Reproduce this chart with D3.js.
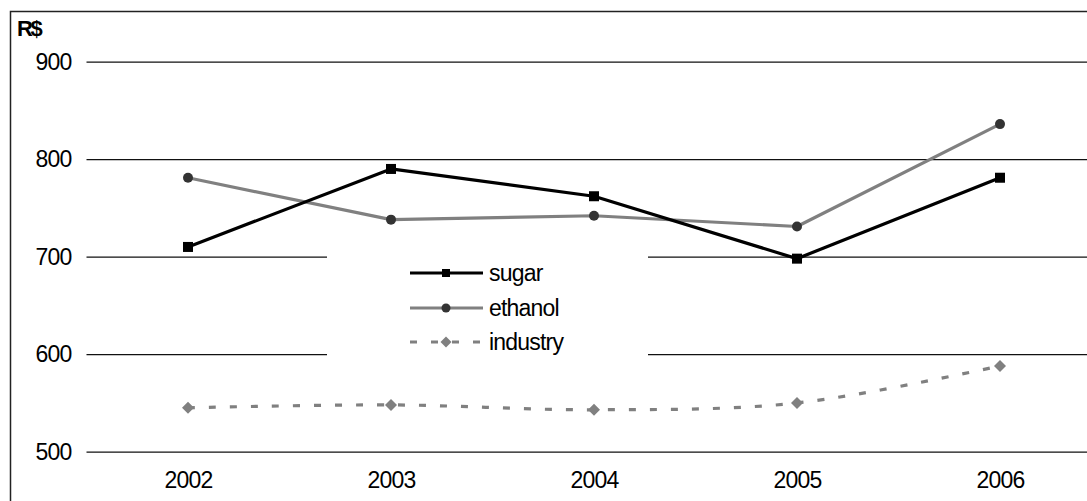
<!DOCTYPE html>
<html>
<head>
<meta charset="utf-8">
<script src="https://cdn.jsdelivr.net/npm/d3@7"></script>
<style>
  html, body { margin: 0; padding: 0; background: #fff; }
  svg { display: block; font-family: "Liberation Sans", Arial, sans-serif; }
</style>
</head>
<body>
<svg id="chart" width="1087" height="501"></svg>
<script>
// Prices in R$ per year
const years = ["2002", "2003", "2004", "2005", "2006"];
const sugar = [710, 790, 762, 698, 781];
const ethanol = [781, 738, 742, 731, 836];
const industry = [545, 548, 543, 550, 588];
const yTicks = [500, 600, 700, 800, 900];
const seriesNames = ["sugar", "ethanol", "industry"];

const svg = d3.select("#chart");
const W = 1087, H = 501;
const FONT = "'Liberation Sans', Arial, sans-serif";

const plot = { left: 86.5, right: 1101.5, top: 61.7, bottom: 451.7 };

const x = d3.scalePoint().domain(years).range([plot.left, plot.right]).padding(0.5);
const y = d3.scaleLinear().domain([500, 900]).range([plot.bottom, plot.top]);

// outer frame
svg.append("rect")
  .attr("x", 10.5).attr("y", 11.5)
  .attr("width", W + 10).attr("height", H + 10)
  .attr("fill", "none").attr("stroke", "#222").attr("stroke-width", 1.5);

// horizontal gridlines with value labels
const yAxis = svg.append("g")
  .attr("transform", `translate(${plot.left},0)`)
  .call(d3.axisLeft(y).tickValues(yTicks).tickSize(-(plot.right - plot.left)).tickPadding(15).tickFormat(d3.format("d")));
yAxis.select(".domain").remove();
yAxis.selectAll(".tick line").attr("stroke", "#111").attr("stroke-width", 1.3);
yAxis.selectAll(".tick text").attr("font-size", 23).attr("fill", "#000")
  .attr("letter-spacing", -0.8).attr("font-family", FONT);

// category labels
const xAxis = svg.append("g")
  .attr("transform", `translate(0,${plot.bottom})`)
  .call(d3.axisBottom(x).tickSize(0).tickPadding(20));
xAxis.select(".domain").remove();
xAxis.selectAll(".tick text").attr("font-size", 23).attr("fill", "#000")
  .attr("letter-spacing", -0.8).attr("font-family", FONT);

// unit label
svg.append("text")
  .attr("x", 17).attr("y", 35.5)
  .attr("font-size", 22).attr("font-weight", "bold")
  .attr("letter-spacing", -2.5)
  .text("R$");

const styles = {
  sugar:    { stroke: "#000", width: 3.2, dash: null, curve: d3.curveLinear, marker: "square", fill: "#000" },
  ethanol:  { stroke: "#808080", width: 3.2, dash: null, curve: d3.curveLinear, marker: "circle", fill: "#333" },
  industry: { stroke: "#808080", width: 3.2, dash: "7,14", curve: d3.curveCatmullRom.alpha(0.5), marker: "diamond", fill: "#808080" }
};
const values = { sugar, ethanol, industry };

function drawMarker(g, kind, cx, cy, size, fill) {
  if (kind === "square") {
    g.append("rect").attr("x", cx - size / 2).attr("y", cy - size / 2)
      .attr("width", size).attr("height", size).attr("fill", fill);
  } else if (kind === "circle") {
    g.append("circle").attr("cx", cx).attr("cy", cy).attr("r", size / 2).attr("fill", fill);
  } else {
    const r = size / 2;
    g.append("path")
      .attr("d", `M${cx},${cy - r}L${cx + r},${cy}L${cx},${cy + r}L${cx - r},${cy}Z`)
      .attr("fill", fill);
  }
}

// series lines and markers
const markerSize = { square: 10, circle: 10, diamond: 12 };
seriesNames.slice().reverse().forEach(name => {
  const s = styles[name];
  const data = years.map((yr, i) => [x(yr), y(values[name][i])]);
  const g = svg.append("g").attr("class", "series-" + name);
  g.append("path")
    .attr("d", d3.line().curve(s.curve)(data))
    .attr("fill", "none")
    .attr("stroke", s.stroke)
    .attr("stroke-width", s.width)
    .attr("stroke-dasharray", s.dash)
    .attr("stroke-linejoin", "round");
  data.forEach(([cx, cy]) => drawMarker(g, s.marker, cx, cy, markerSize[s.marker], s.fill));
});

// legend
const legend = svg.append("g");
legend.append("rect")
  .attr("x", 327).attr("y", 246).attr("width", 321).attr("height", 118)
  .attr("fill", "#fff");
const legendY = [273, 308, 342];
const legendMarkerSize = { square: 8, circle: 9, diamond: 11 };
seriesNames.forEach((name, i) => {
  const s = styles[name];
  const ly = legendY[i];
  legend.append("line")
    .attr("x1", 410).attr("x2", 483).attr("y1", ly).attr("y2", ly)
    .attr("stroke", s.stroke).attr("stroke-width", s.width)
    .attr("stroke-dasharray", s.dash);
  drawMarker(legend, s.marker, 446, ly, legendMarkerSize[s.marker], s.fill);
  legend.append("text")
    .attr("x", 489).attr("y", ly + 8)
    .attr("font-size", 23).attr("fill", "#000")
    .attr("letter-spacing", -0.8)
    .text(name);
});
</script>
</body>
</html>
